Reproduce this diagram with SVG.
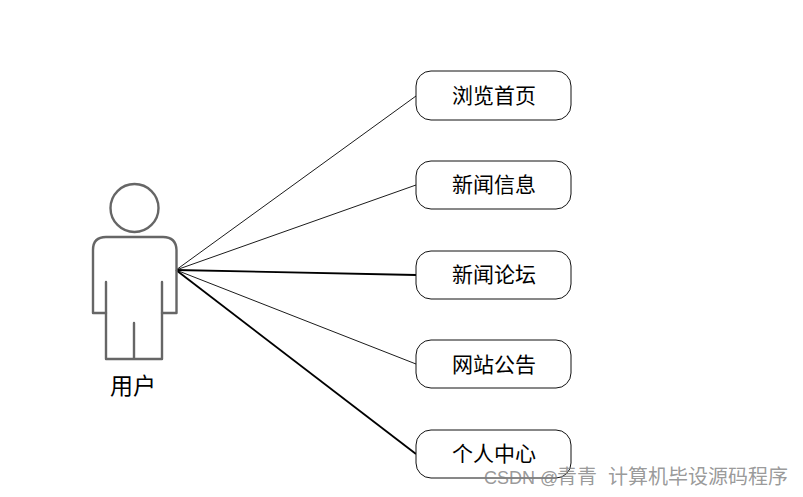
<svg xmlns="http://www.w3.org/2000/svg" width="803" height="497" viewBox="0 0 803 497">
<style>
.box{fill:#fff;stroke:#111;stroke-width:1}
.t{font-family:"Noto Sans CJK SC","Liberation Sans",sans-serif;font-size:21px;fill:#000;text-anchor:middle}
.fig{fill:none;stroke:#666;stroke-width:2.4;stroke-linejoin:round;stroke-linecap:round}
.c{stroke:#000;fill:none}
.wm{font-family:"Liberation Sans","Noto Sans CJK SC",sans-serif;font-size:18px;fill:#808080;fill-opacity:.8}
.wz{font-size:20px}
</style>
<rect width="803" height="497" fill="#fff"/>
<g id="connectors">
<line class="c" stroke-width="0.9" x1="176" y1="270" x2="416" y2="96"/>
<line class="c" stroke-width="0.9" x1="176" y1="270" x2="416" y2="185"/>
<line class="c" stroke-width="1.8" x1="176" y1="270" x2="416" y2="275"/>
<line class="c" stroke-width="0.9" x1="176" y1="270" x2="416" y2="364"/>
<line class="c" stroke-width="1.8" x1="176" y1="270" x2="416" y2="454"/>
</g>
<g id="user">
<circle class="fig" cx="134.500" cy="208" r="24"/>
<path class="fig" d="M106 313H93V250Q93 237 106 237H163Q176 237 176.500 250V313H162"/>
<path class="fig" d="M106 282V359H162V282M134 323V359"/>
<text class="t" x="133" y="394" style="font-size:23px">用户</text>
</g>
<g id="n1"><rect class="box" x="416" y="71" width="155" height="49" rx="15"/><text class="t" x="494" y="103">浏览首页</text></g>
<g id="n2"><rect class="box" x="416" y="161" width="155" height="48" rx="15"/><text class="t" x="494" y="192">新闻信息</text></g>
<g id="n3"><rect class="box" x="416" y="251" width="155" height="48" rx="15"/><text class="t" x="494" y="282">新闻论坛</text></g>
<g id="n4"><rect class="box" x="416" y="340" width="155" height="48" rx="15"/><text class="t" x="494" y="372">网站公告</text></g>
<g id="n5"><rect class="box" x="416" y="430" width="155" height="48" rx="15"/><text class="t" x="494" y="461">个人中心</text></g>
<text class="wm" x="484" y="484">CSDN @<tspan class="wz" x="557">青青</tspan><tspan class="wz" x="608">计算机毕设源码程序</tspan></text>
</svg>
